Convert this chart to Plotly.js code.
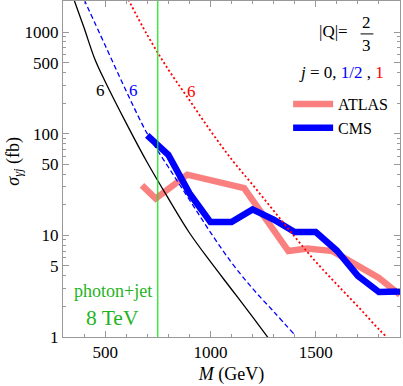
<!DOCTYPE html>
<html>
<head>
<meta charset="utf-8">
<script src="https://cdn.plot.ly/plotly-3.0.1.min.js"></script>
<style>
  body { margin: 0; padding: 0; background: white; }
  #plot { width: 403px; height: 386px; }
</style>
</head>
<body>
<div id="plot"></div>
<script>
// theory curves, sigma in fb against mass M in GeV
let massSpin0 = [350, 400, 450, 500, 600, 700, 800, 900, 1000, 1100, 1200, 1300];
let sigmaSpin0 = [2140, 1100, 550, 326, 127, 52, 23.1, 10.6, 5.5, 2.95, 1.58, 0.83];

let massSpinHalf = [400, 500, 600, 700, 800, 900, 1000, 1100, 1200, 1300, 1400];
let sigmaSpinHalf = [2090, 740, 263, 100, 47, 22.4, 10.7, 5.4, 3.0, 1.78, 1.05];

let massSpin1 = [600, 700, 800, 900, 1000, 1100, 1200, 1300, 1400, 1500, 1600, 1700, 1800, 1900];
let sigmaSpin1 = [2290, 935, 428, 214, 107, 56, 31.5, 17.5, 9.7, 5.5, 3.3, 2.0, 1.19, 0.75];

// experimental limits
let massATLAS = [675, 740, 890, 1000, 1050, 1160, 1370, 1460, 1580, 1640, 1800, 1900];
let sigmaATLAS = [31, 23, 39.5, 34.5, 33.4, 29.2, 7.0, 7.4, 7.0, 5.9, 3.8, 2.6];

let massCMS = [700, 800, 900, 1000, 1100, 1200, 1300, 1400, 1500, 1600, 1700, 1800, 1900];
let sigmaCMS = [96, 62, 26, 13.5, 13.5, 18.0, 14.3, 10.8, 10.8, 7.1, 4.0, 2.77, 2.8];

// photon+jet search threshold
let cutMass = 750;

// axis ticks
let xTicks = [500, 1000, 1500];
let yTicks = [1, 5, 10, 50, 100, 500, 1000];

let serif = "Liberation Serif, Times New Roman, serif";

// minor ticks on the log axis: 2..9 in every decade
let yMinor = [];
for (let d = 1; d <= 1000; d *= 10)
    for (let k = 2; k <= 9; k++)
        yMinor.push(k * d);

let atlas = {
    x: massATLAS, y: sigmaATLAS, name: "ATLAS", mode: "lines",
    line: {color: "rgb(250,128,128)", width: 6.5}
};

let cms = {
    x: massCMS, y: sigmaCMS, name: "CMS", mode: "lines",
    line: {color: "rgb(0,0,255)", width: 6.5}
};

let spin0 = {
    x: massSpin0, y: sigmaSpin0, mode: "lines", showlegend: false,
    line: {color: "black", width: 1.3, shape: "spline"}
};

let spinHalf = {
    x: massSpinHalf, y: sigmaSpinHalf, mode: "lines", showlegend: false,
    line: {color: "rgb(0,0,255)", width: 1.3, dash: "5px,3px", shape: "spline"}
};

let spin1 = {
    x: massSpin1, y: sigmaSpin1, mode: "lines", showlegend: false,
    line: {color: "rgb(255,0,0)", width: 1.8, dash: "2px,2.5px", shape: "spline"}
};

let axisStyle = {
    showline: true, linecolor: "#999", linewidth: 1, mirror: "ticks",
    ticks: "inside", ticklen: 6, tickcolor: "#999",
    showgrid: false, zeroline: false,
    tickfont: {family: serif, size: 17, color: "black"}
};

// text placed in paper coordinates, centred on the given point
function note(x, y, text, size, color)
{
    return {
        xref: "paper", yref: "paper", x: x, y: y, text: text,
        xanchor: "center", yanchor: "middle", showarrow: false,
        font: {family: serif, size: size, color: color || "black"}
    };
}

// label "6" next to each theory curve, in data coordinates
function curveLabel(m, s, color)
{
    return {
        xref: "x", yref: "y", x: m, y: Math.log10(s), text: "6",
        xanchor: "center", yanchor: "middle", showarrow: false,
        font: {family: serif, size: 17, color: color}
    };
}

let green = "rgb(30,180,30)";

// y axis title, rotated, drawn as a note so it sits where the original has it
let yTitle = note(-0.145, 0.522, "<i>σ</i><sub><i>γj</i></sub> (fb)", 18);
yTitle.textangle = -90;

let layout = {
    width: 403, height: 386,
    margin: {l: 63, r: 3, t: 1, b: 49},
    paper_bgcolor: "white", plot_bgcolor: "white",
    font: {family: serif, color: "black"},
    xaxis: Object.assign({}, axisStyle, {
        range: [300, 1900],
        tickvals: xTicks,
        minor: {ticks: "inside", ticklen: 3, tickcolor: "#999", dtick: 100, tick0: 0},
        title: {text: "<i>M</i> (GeV)", font: {family: serif, size: 18}, standoff: 5}
    }),
    yaxis: Object.assign({}, axisStyle, {
        type: "log",
        range: [0, 3.305],
        tickvals: yTicks,
        ticktext: yTicks.map(v => String(v)),
        minor: {ticks: "inside", ticklen: 3, tickcolor: "#999", tickvals: yMinor}
    }),
    showlegend: true,
    legend: {
        x: 0.668, y: 0.744, xanchor: "left", yanchor: "top",
        bgcolor: "rgba(0,0,0,0)",
        font: {family: serif, size: 16},
        itemwidth: 40,
        tracegroupgap: 6
    },
    shapes: [
        {
            type: "line", xref: "x", yref: "paper",
            x0: cutMass, x1: cutMass, y0: 0, y1: 1,
            line: {color: "rgb(20,230,20)", width: 1.2},
            layer: "above"
        },
        {
            // fraction bar of |Q| = 2/3
            type: "line", xref: "paper", yref: "paper",
            x0: 0.883, x1: 0.921, y0: 0.902, y1: 0.902,
            line: {color: "black", width: 1}
        }
    ],
    annotations: [
        curveLabel(477, 267, "black"),
        curveLabel(635, 267, "rgb(0,0,255)"),
        curveLabel(910, 262, "rgb(255,0,0)"),
        {xref: "x", yref: "y", x: 535, y: 0.449, text: "photon+jet", showarrow: false,
         xanchor: "center", yanchor: "middle",
         font: {family: serif, size: 18, color: green}},
        {xref: "x", yref: "y", x: 535, y: 0.184, text: "8 TeV", showarrow: false,
         xanchor: "center", yanchor: "middle",
         font: {family: serif, size: 21.5, color: green}},
        note(0.804, 0.908, "|Q|=", 17),
        note(0.902, 0.937, "2", 17),
        note(0.902, 0.868, "3", 17),
        note(0.825, 0.786,
             "<i>j</i> = 0, <span style='color:rgb(0,0,255)'>1/2</span> , <span style='color:rgb(255,0,0)'>1</span>", 17),
        yTitle
    ]
};

Plotly.newPlot("plot", [atlas, cms, spin0, spinHalf, spin1], layout, {staticPlot: true});
</script>
</body>
</html>
